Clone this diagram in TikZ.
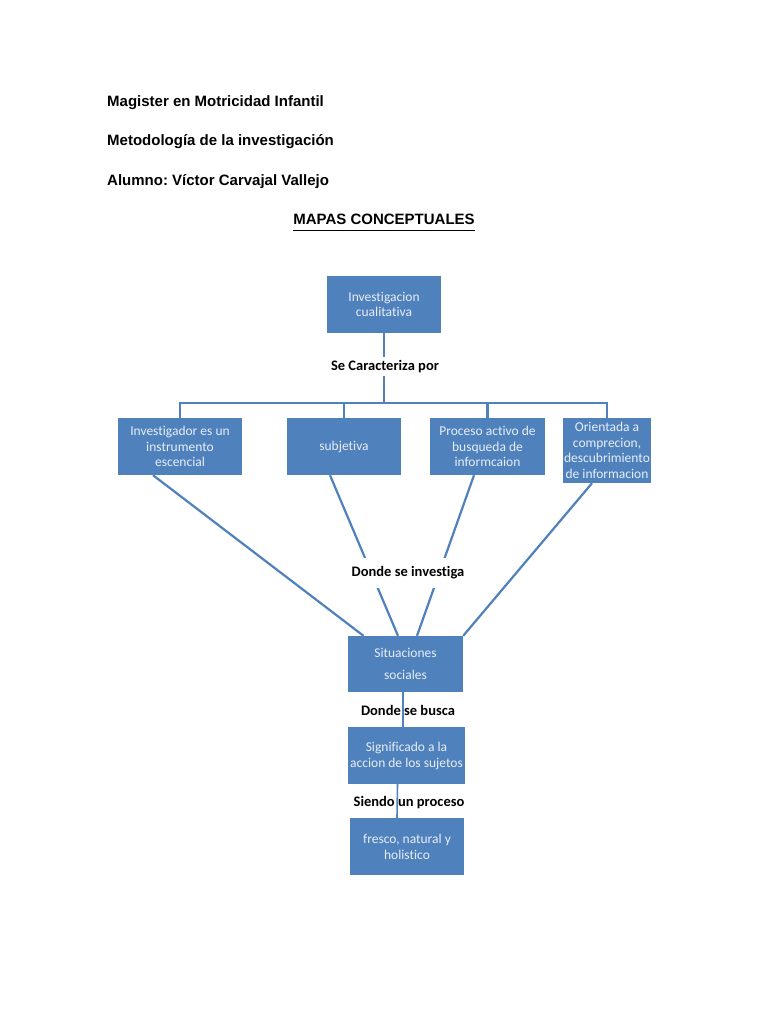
\documentclass[tikz,border=0pt]{standalone}
\usepackage{fontspec}
\setmainfont[Ligatures=NoCommon]{Carlito}
\newfontfamily\headfont{Liberation Sans}
\definecolor{boxblue}{HTML}{4F81BD}
\definecolor{boxtext}{HTML}{E8EEF6}
\frenchspacing
\tikzset{
% Concept boxes, linking words and the page heading
concept/.style={rectangle,fill=boxblue,text=boxtext,align=center,inner sep=0pt,font=\fontsize{13.5}{15.5}\selectfont},
link word/.style={font=\fontsize{14.5}{16}\selectfont\bfseries,inner sep=2pt},
head line/.style={anchor=base west,inner sep=0pt,font=\headfont\fontsize{15}{18}\selectfont\bfseries},
connector/.style={draw=boxblue,line width=2.2pt}
}
\begin{document}
\begin{tikzpicture}[x=1pt,y=-1pt]
\useasboundingbox[fill=white] (0,0) rectangle (768,1024);

\node[head line] (mag) at (107,106.5) {Magister en Motricidad Infantil};
\node[head line] (met) at (107,146) {Metodología de la investigación};
\node[head line] (alu) at (107,186) {Alumno: Víctor Carvajal Vallejo};
\node[head line,anchor=base] (title) at (384,225) {MAPAS CONCEPTUALES};
\draw[line width=1.5pt] ([yshift=-5.5pt]title.base west) -- ([yshift=-5.5pt]title.base east);

\node[concept,minimum width=114pt,minimum height=57pt] (top) at (384,304.5) {Investigacion\\cualitativa};
\node[link word,inner ysep=3.5pt] (car) at (385,366.5) {Se Caracteriza por};
\coordinate (bar) at (384,403);

\node[concept,minimum width=124pt,minimum height=57pt] (inst) at (180,446.5) {Investigador es un\\instrumento\\escencial};
\node[concept,minimum width=114pt,minimum height=57pt] (subj) at (344,446.5) {subjetiva};
\node[concept,minimum width=115pt,minimum height=57pt] (proc) at (487.5,446.5) {Proceso activo de\\busqueda de\\informcaion};
\node[concept,minimum width=88pt,minimum height=65pt] (orie) at (607,450.5) {Orientada a\\comprecion,\\descubrimiento\\de informacion};

\node[concept,minimum width=115pt,minimum height=56pt,font=\fontsize{13.5}{22}\selectfont] (sit) at (405.5,664) {Situaciones\\sociales};
\node[concept,minimum width=117pt,minimum height=57pt,font=\fontsize{13.5}{16}\selectfont] (sig) at (406.5,755.5) {Significado a la\\accion de los sujetos};
\node[concept,minimum width=114pt,minimum height=57pt,font=\fontsize{13.5}{16}\selectfont] (fre) at (407,846.5) {fresco, natural y\\holistico};

% tree from the top box
\draw[connector] (top.south) -- (top.south |- car.north);
\draw[connector] (top.south |- car.south) -- (bar);
\draw[connector] (inst.north) |- (bar) -| (orie.north);
\draw[connector] (subj.north) -- (subj.north |- bar);
\draw[connector] (proc.north) -- (proc.north |- bar);

% lines down to the situations box
\draw[connector] ([xshift=-27pt]inst.south) -- ([xshift=-42pt]sit.north);
\draw[connector] ([xshift=-14pt]subj.south) -- ([xshift=-7.5pt]sit.north);
\draw[connector] ([xshift=-13.5pt]proc.south) -- ([xshift=11.5pt]sit.north);
\draw[connector] ([xshift=-15pt]orie.south) -- (sit.north east);
\node[link word,fill=white,inner ysep=9pt] (inv) at (408,573) {Donde se investiga};

% chain below
\draw[connector,line width=1.6pt] ([xshift=-2.5pt]sit.south) -- ([xshift=-3.5pt]sig.north);
\node[link word] (bus) at (408,710) {Donde se busca};
\draw[connector,line width=1.6pt] ([xshift=-9pt]sig.south) -- ([xshift=-10pt]fre.north);
\node[link word] (pro) at (409,803) {Siendo un proceso};
\end{tikzpicture}
\end{document}
